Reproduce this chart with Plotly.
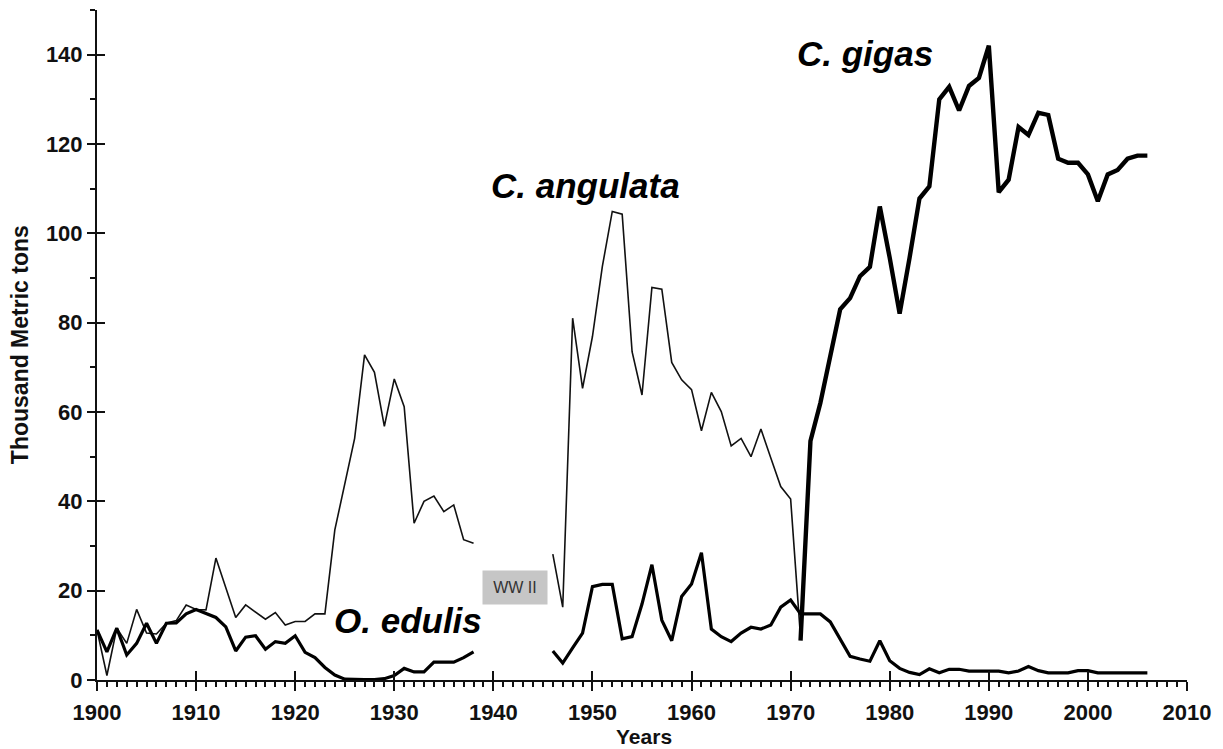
import plotly.graph_objects as go

# ---------------- data (thousand metric tons) ----------------
years_early = list(range(1900, 1939))          # 1900-1938
years_late = list(range(1946, 1972))           # 1946-1971
years_edulis_late = list(range(1946, 2007))    # 1946-2006
years_gigas = list(range(1971, 2007))          # 1971-2006

angulata_early = [11.2, 1.0, 11.6, 8.2, 15.8, 10.5, 10.3, 12.7, 13.3, 16.8,
                  15.8, 15.7, 27.3, 20.9, 14.0, 16.8, 15.3, 13.6, 15.1, 12.3,
                  13.1, 13.1, 14.8, 14.8, 33.6, 44.0, 54.1, 72.8, 68.9, 56.8,
                  67.4, 61.2, 35.1, 40.0, 41.2, 37.7, 39.2, 31.4, 30.6]
angulata_late = [28.2, 16.3, 81.0, 65.3, 76.9, 92.6, 104.9, 104.3, 73.5, 63.8,
                 87.9, 87.5, 71.1, 67.2, 65.0, 55.8, 64.4, 60.1, 52.4, 54.1,
                 50.0, 56.2, 49.7, 43.3, 40.5, 9.5]

edulis_early = [11.2, 6.3, 11.6, 5.6, 8.2, 12.7, 8.2, 12.7, 12.8, 14.8,
                15.8, 14.9, 14.0, 11.9, 6.5, 9.6, 9.9, 6.9, 8.6, 8.2,
                9.9, 6.2, 5.0, 2.8, 1.1, 0.2, 0.1, 0.1, 0.1, 0.3,
                1.0, 2.6, 1.8, 1.8, 4.0, 4.0, 4.0, 5.0, 6.3]
edulis_late = [6.5, 3.8, 7.2, 10.5, 20.9, 21.4, 21.4, 9.2, 9.7, 17.0,
               25.8, 13.4, 8.8, 18.7, 21.5, 28.5, 11.4, 9.7, 8.6, 10.5,
               11.8, 11.4, 12.3, 16.3, 17.9, 14.8, 14.8, 14.8, 13.0, 9.0,
               5.3, 4.7, 4.2, 8.8, 4.3, 2.6, 1.7, 1.2, 2.5, 1.6,
               2.4, 2.4, 2.0, 2.0, 2.0, 2.0, 1.6, 2.0, 3.0, 2.1,
               1.6, 1.6, 1.6, 2.1, 2.1, 1.6, 1.6, 1.6, 1.6, 1.6, 1.6]

gigas = [8.8, 53.5, 62.0, 72.3, 83.0, 85.5, 90.4, 92.5, 106.0, 94.5,
         82.0, 94.5, 107.8, 110.5, 130.0, 132.8, 127.5, 133.0, 134.8, 142.0,
         109.2, 112.0, 123.8, 122.0, 127.0, 126.5, 116.7, 115.8, 115.8, 113.2,
         107.2, 113.2, 114.2, 116.7, 117.4, 117.4]

species_labels = ["C. gigas", "C. angulata", "O. edulis"]
gap_label = "WW II"
x_title = "Years"
y_title = "Thousand Metric tons"

# ---------------- figure ----------------
FONT = "Liberation Sans, Arial, sans-serif"
gap_years = list(range(1939, 1946))


def with_gap(y1, v1, y2, v2):
    xs = y1 + gap_years + y2
    vs = v1 + [None] * len(gap_years) + v2
    return xs, vs


fig = go.Figure()

xa, va = with_gap(years_early, angulata_early, years_late, angulata_late)
fig.add_trace(go.Scatter(x=xa, y=va, mode="lines", connectgaps=False,
                         line=dict(color="#111111", width=1.6), name="C. angulata"))

xe, ve = with_gap(years_early, edulis_early, years_edulis_late, edulis_late)
fig.add_trace(go.Scatter(x=xe, y=ve, mode="lines", connectgaps=False,
                         line=dict(color="#000000", width=3.2), name="O. edulis"))

fig.add_trace(go.Scatter(x=years_gigas, y=gigas, mode="lines",
                         line=dict(color="#000000", width=4.4), name="C. gigas"))

# helper invisible trace for overlay axes (inner half of crossing ticks)
fig.add_trace(go.Scatter(x=[1900], y=[0], xaxis="x2", yaxis="y2", mode="lines",
                         line=dict(width=0), showlegend=False, hoverinfo="skip"))

ann_font = dict(family=FONT, size=35, color="#000000", weight="bold", style="italic")
fig.add_annotation(x=1977.5, y=140.2, text=species_labels[0], showarrow=False,
                   font=ann_font, xanchor="center", yanchor="middle")
fig.add_annotation(x=1949.3, y=110.8, text=species_labels[1], showarrow=False,
                   font=ann_font, xanchor="center", yanchor="middle")
fig.add_annotation(x=1931.4, y=13.4, text=species_labels[2], showarrow=False,
                   font=ann_font, xanchor="center", yanchor="middle")
fig.add_annotation(x=1942.2, y=20.8, text=gap_label, showarrow=False,
                   font=dict(family=FONT, size=16, color="#333333"),
                   bgcolor="#c6c6c6", width=60, height=29, borderpad=2,
                   xanchor="center", yanchor="middle")

# axis titles
fig.add_annotation(xref="paper", yref="paper", x=-0.0705, y=0.5, text=y_title,
                   textangle=-90, showarrow=False, xanchor="center", yanchor="middle",
                   font=dict(family=FONT, size=23, color="#111111", weight="bold"))
fig.add_annotation(xref="paper", yref="paper", x=0.5015, y=-0.0836, text=x_title,
                   showarrow=False, xanchor="center", yanchor="middle",
                   font=dict(family=FONT, size=21, color="#111111", weight="bold"))

tickfont = dict(family=FONT, size=22, color="#111111", weight="bold")

fig.update_layout(
    width=1223, height=749,
    margin=dict(l=97, r=36, t=10, b=69),
    paper_bgcolor="white", plot_bgcolor="white",
    showlegend=False,
    xaxis=dict(range=[1900, 2010], tick0=1900, dtick=10, showgrid=False, zeroline=False,
               showline=True, linecolor="#111111", linewidth=2,
               ticks="outside", ticklen=9, tickwidth=2, tickcolor="#111111",
               minor=dict(dtick=1, ticks="outside", ticklen=5, tickwidth=1.5,
                          tickcolor="#111111", showgrid=False),
               tickfont=tickfont, ticklabelstandoff=3),
    yaxis=dict(range=[0, 150], tick0=0, dtick=20, showgrid=False, zeroline=False,
               showline=True, linecolor="#111111", linewidth=2,
               ticks="outside", ticklen=8, tickwidth=2, tickcolor="#111111",
               minor=dict(dtick=10, ticks="outside", ticklen=5, tickwidth=1.5,
                          tickcolor="#111111", showgrid=False),
               tickfont=tickfont),
    xaxis2=dict(range=[1900, 2010], tick0=1900, dtick=10, overlaying="x", anchor="y2",
                side="bottom", showgrid=False, zeroline=False, showline=False,
                ticks="inside", ticklen=9, tickwidth=2, tickcolor="#111111",
                showticklabels=False),
    yaxis2=dict(range=[0, 150], tick0=0, dtick=20, overlaying="y", anchor="x2",
                side="left", showgrid=False, zeroline=False, showline=False,
                ticks="inside", ticklen=8, tickwidth=2, tickcolor="#111111",
                showticklabels=False),
)

fig.write_html("out.html", config={"displayModeBar": False},
               post_script="document.body.style.margin='0';document.body.style.overflow='hidden';")
